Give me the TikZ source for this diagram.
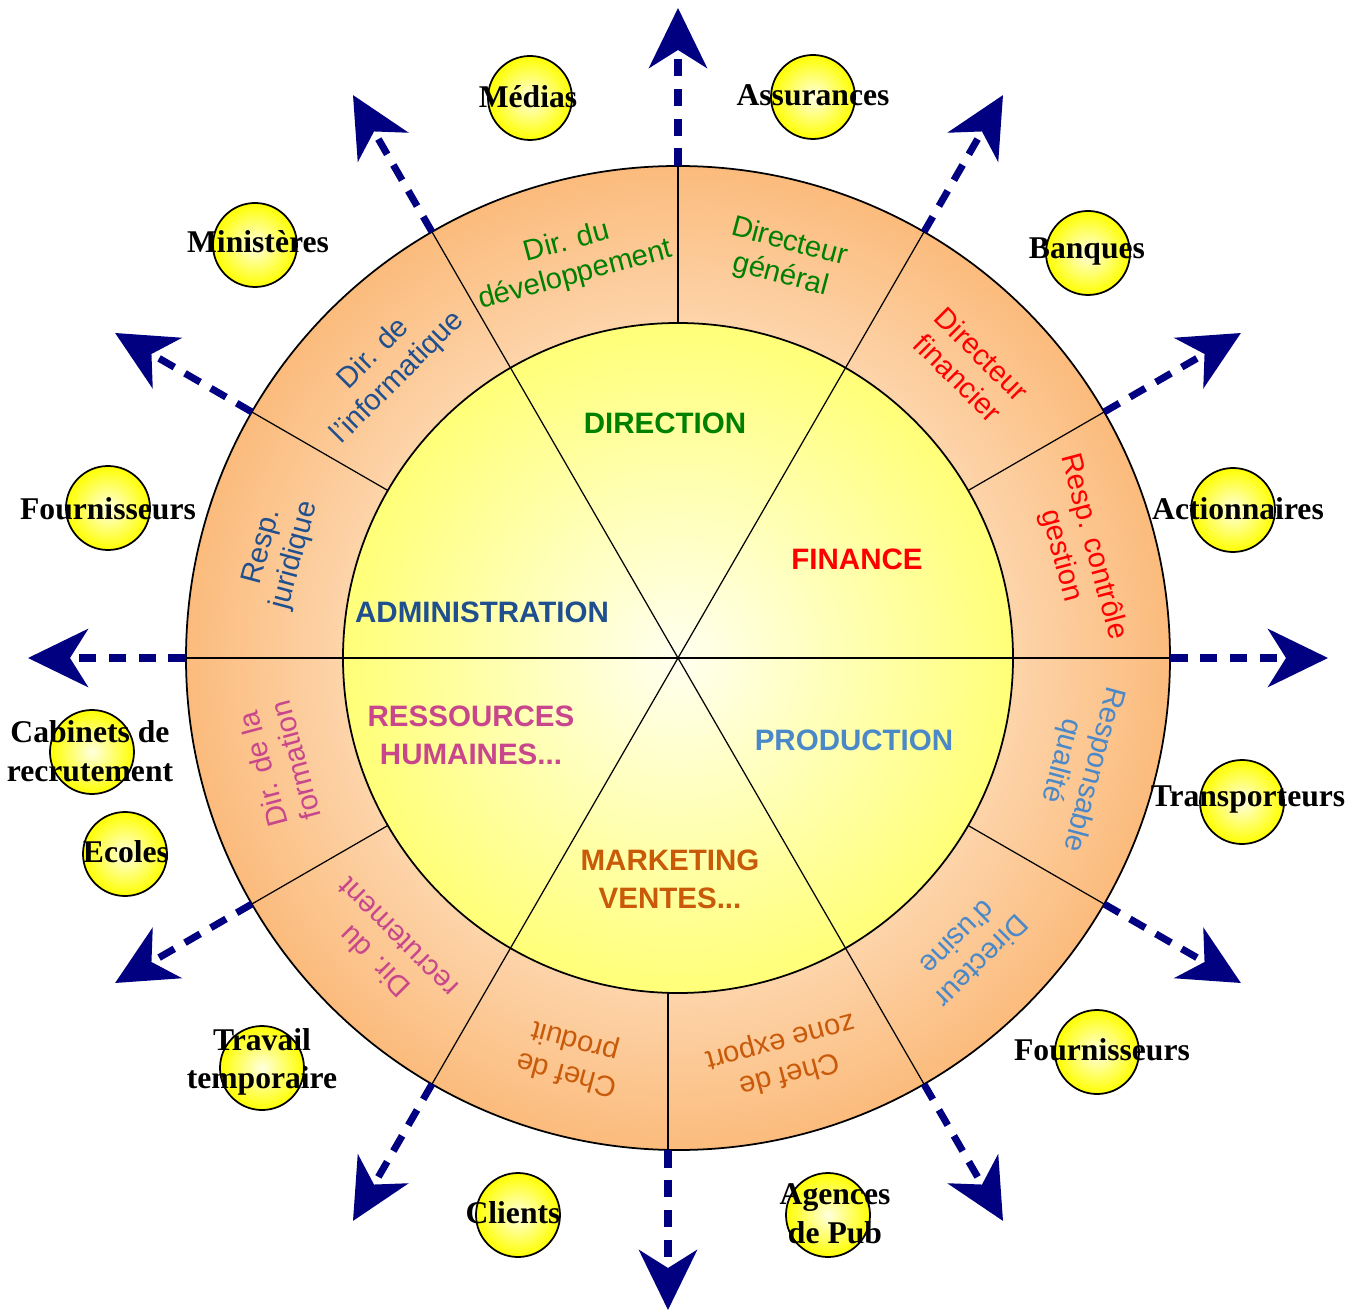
\documentclass[tikz,border=0pt]{standalone}
\usepackage{fontspec}
\setmainfont{Liberation Serif}
\setsansfont{Liberation Sans}
\usepackage{tikz}
\usetikzlibrary{arrows.meta}

\definecolor{navyarrow}{HTML}{000080}
\definecolor{ringin}{HTML}{FDD4AA}
\definecolor{ringout}{HTML}{FBBB7C}
\definecolor{coreIn}{HTML}{FFFFF0}
\definecolor{coreOut}{HTML}{FFFF78}
\definecolor{dirgreen}{HTML}{008000}
\definecolor{finred}{HTML}{FF0000}
\definecolor{prodblue}{HTML}{4A88C8}
\definecolor{mktorange}{HTML}{C85A0A}
\definecolor{rhpink}{HTML}{C8468C}
\definecolor{admblue}{HTML}{1F4F8F}

\pgfdeclareradialshading{ringshade}{\pgfpoint{0bp}{0bp}}{color(0bp)=(ringin); color(17bp)=(ringin); color(25bp)=(ringout); color(50bp)=(ringout)}

\tikzset{
  ringtxt/.style={font=\sffamily\fontsize{8.3}{9.6}\selectfont, align=center, inner sep=0pt},
  sectxt/.style={font=\sffamily\bfseries\fontsize{8.4}{10.8}\selectfont, align=center, inner sep=0pt},
  ball/.style={circle, draw=black, line width=0.5pt, minimum size=0.84cm, inner sep=0pt, inner color=yellow!12!white, outer color=yellow},
  balltxt/.style={font=\bfseries\fontsize{9}{11}\selectfont, align=center, inner sep=0pt},
  flow/.style={draw=navyarrow, line width=2pt, dash pattern=on 5pt off 3.5pt, -{Stealth[length=0.6cm, width=0.58cm, inset=0.18cm]}}
}

\begin{document}
\begin{tikzpicture}
\useasboundingbox (-6.78,-6.53) rectangle (6.74,6.58);

\shade[shading=ringshade] (0,0) circle (4.92);
\draw[line width=0.5pt] (0,0) circle (4.92);
\shade[inner color=coreIn, outer color=coreOut] (0,0) circle (3.35);
\draw[line width=0.5pt] (0,0) circle (3.35);

\foreach \a in {0,30,...,240,300,330}
  \draw[line width=0.35pt] (\a:3.35) -- (\a:4.92);
\draw[line width=0.35pt] (-0.1,-3.35) -- (-0.1,-4.92);
\foreach \a in {0,60,120}
  \draw[line width=0.35pt] (\a:3.35) -- ({\a+180}:3.35);

\node[sectxt, text=dirgreen] (direction) at (-0.13,2.35) {DIRECTION};
\node[sectxt, text=finred] (finance) at (1.79,0.99) {FINANCE};
\node[sectxt, text=admblue] (admin) at (-1.96,0.46) {ADMINISTRATION};
\node[sectxt, text=rhpink] (rh) at (-2.07,-0.77) {RESSOURCES\\HUMAINES...};
\node[sectxt, text=prodblue] (prod) at (1.76,-0.82) {PRODUCTION};
\node[sectxt, text=mktorange] (mkt) at (-0.08,-2.21) {MARKETING\\VENTES...};

\foreach \a/\t/\c in {105/{Dir. du\\développement}/dirgreen,
                      75/{Directeur\\général}/dirgreen,
                      45/{Directeur\\financier}/finred,
                      15/{Resp. contrôle\\gestion}/finred,
                      345/{Responsable\\qualité}/prodblue,
                      315/{Directeur\\d'usine}/prodblue,
                      285/{Chef de\\zone export}/mktorange,
                      255/{Chef de\\produit}/mktorange,
                      225/{Dir. du\\recrutement}/rhpink,
                      195/{Dir. de la\\formation}/rhpink,
                      165/{Resp.\\juridique}/admblue,
                      135/{Dir. de\\l'informatique}/admblue}
  \node[ringtxt, text=\c, rotate=\a-90] (poste\a) at (\a:4.13) {\t};

\foreach \a in {0,30,...,240,300,330} {
  \coordinate (s\a) at (\a:4.92);
  \coordinate (e\a) at (\a:6.5);
  \draw[flow] (s\a) -- (e\a);
}
\coordinate (s270) at (-0.1,-4.92);
\coordinate (e270) at (-0.1,-6.52);
\draw[flow] (s270) -- (e270);

\node[ball] (medias) at (-1.48,5.60) {};
\node[ball] (assur) at (1.35,5.61) {};
\node[ball] (banques) at (4.10,4.05) {};
\node[ball] (action) at (5.55,1.48) {};
\node[ball] (transp) at (5.64,-1.44) {};
\node[ball] (fourn-d) at (4.19,-3.94) {};
\node[ball] (agences) at (1.50,-5.57) {};
\node[ball] (clients) at (-1.60,-5.57) {};
\node[ball] (travail) at (-4.16,-4.10) {};
\node[ball] (ecoles) at (-5.53,-1.96) {};
\node[ball] (cabinets) at (-5.86,-0.94) {};
\node[ball] (fourn-g) at (-5.70,1.50) {};
\node[ball] (minist) at (-4.23,4.13) {};

\node[balltxt] (medias-t) at (-1.50,5.61) {Médias};
\node[balltxt] (assur-t) at (1.35,5.63) {Assurances};
\node[balltxt] (banques-t) at (4.09,4.06) {Banques};
\node[balltxt] (action-t) at (5.60,1.49) {Actionnaires};
\node[balltxt] (transp-t) at (5.70,-1.42) {Transporteurs};
\node[balltxt] (fourn-d-t) at (4.24,-3.92) {Fournisseurs};
\node[balltxt] (agences-t) at (1.57,-5.56) {Agences\\de Pub};
\node[balltxt] (clients-t) at (-1.65,-5.55) {Clients};
\node[balltxt] (travail-t) at (-4.16,-4.04) {Travail\\temporaire};
\node[balltxt] (ecoles-t) at (-5.52,-1.94) {Ecoles};
\node[balltxt] (cabinets-t) at (-5.88,-0.93) {Cabinets de\\recrutement};
\node[balltxt] (fourn-g-t) at (-5.70,1.49) {Fournisseurs};
\node[balltxt] (minist-t) at (-4.20,4.16) {Ministères};
\end{tikzpicture}
\end{document}
